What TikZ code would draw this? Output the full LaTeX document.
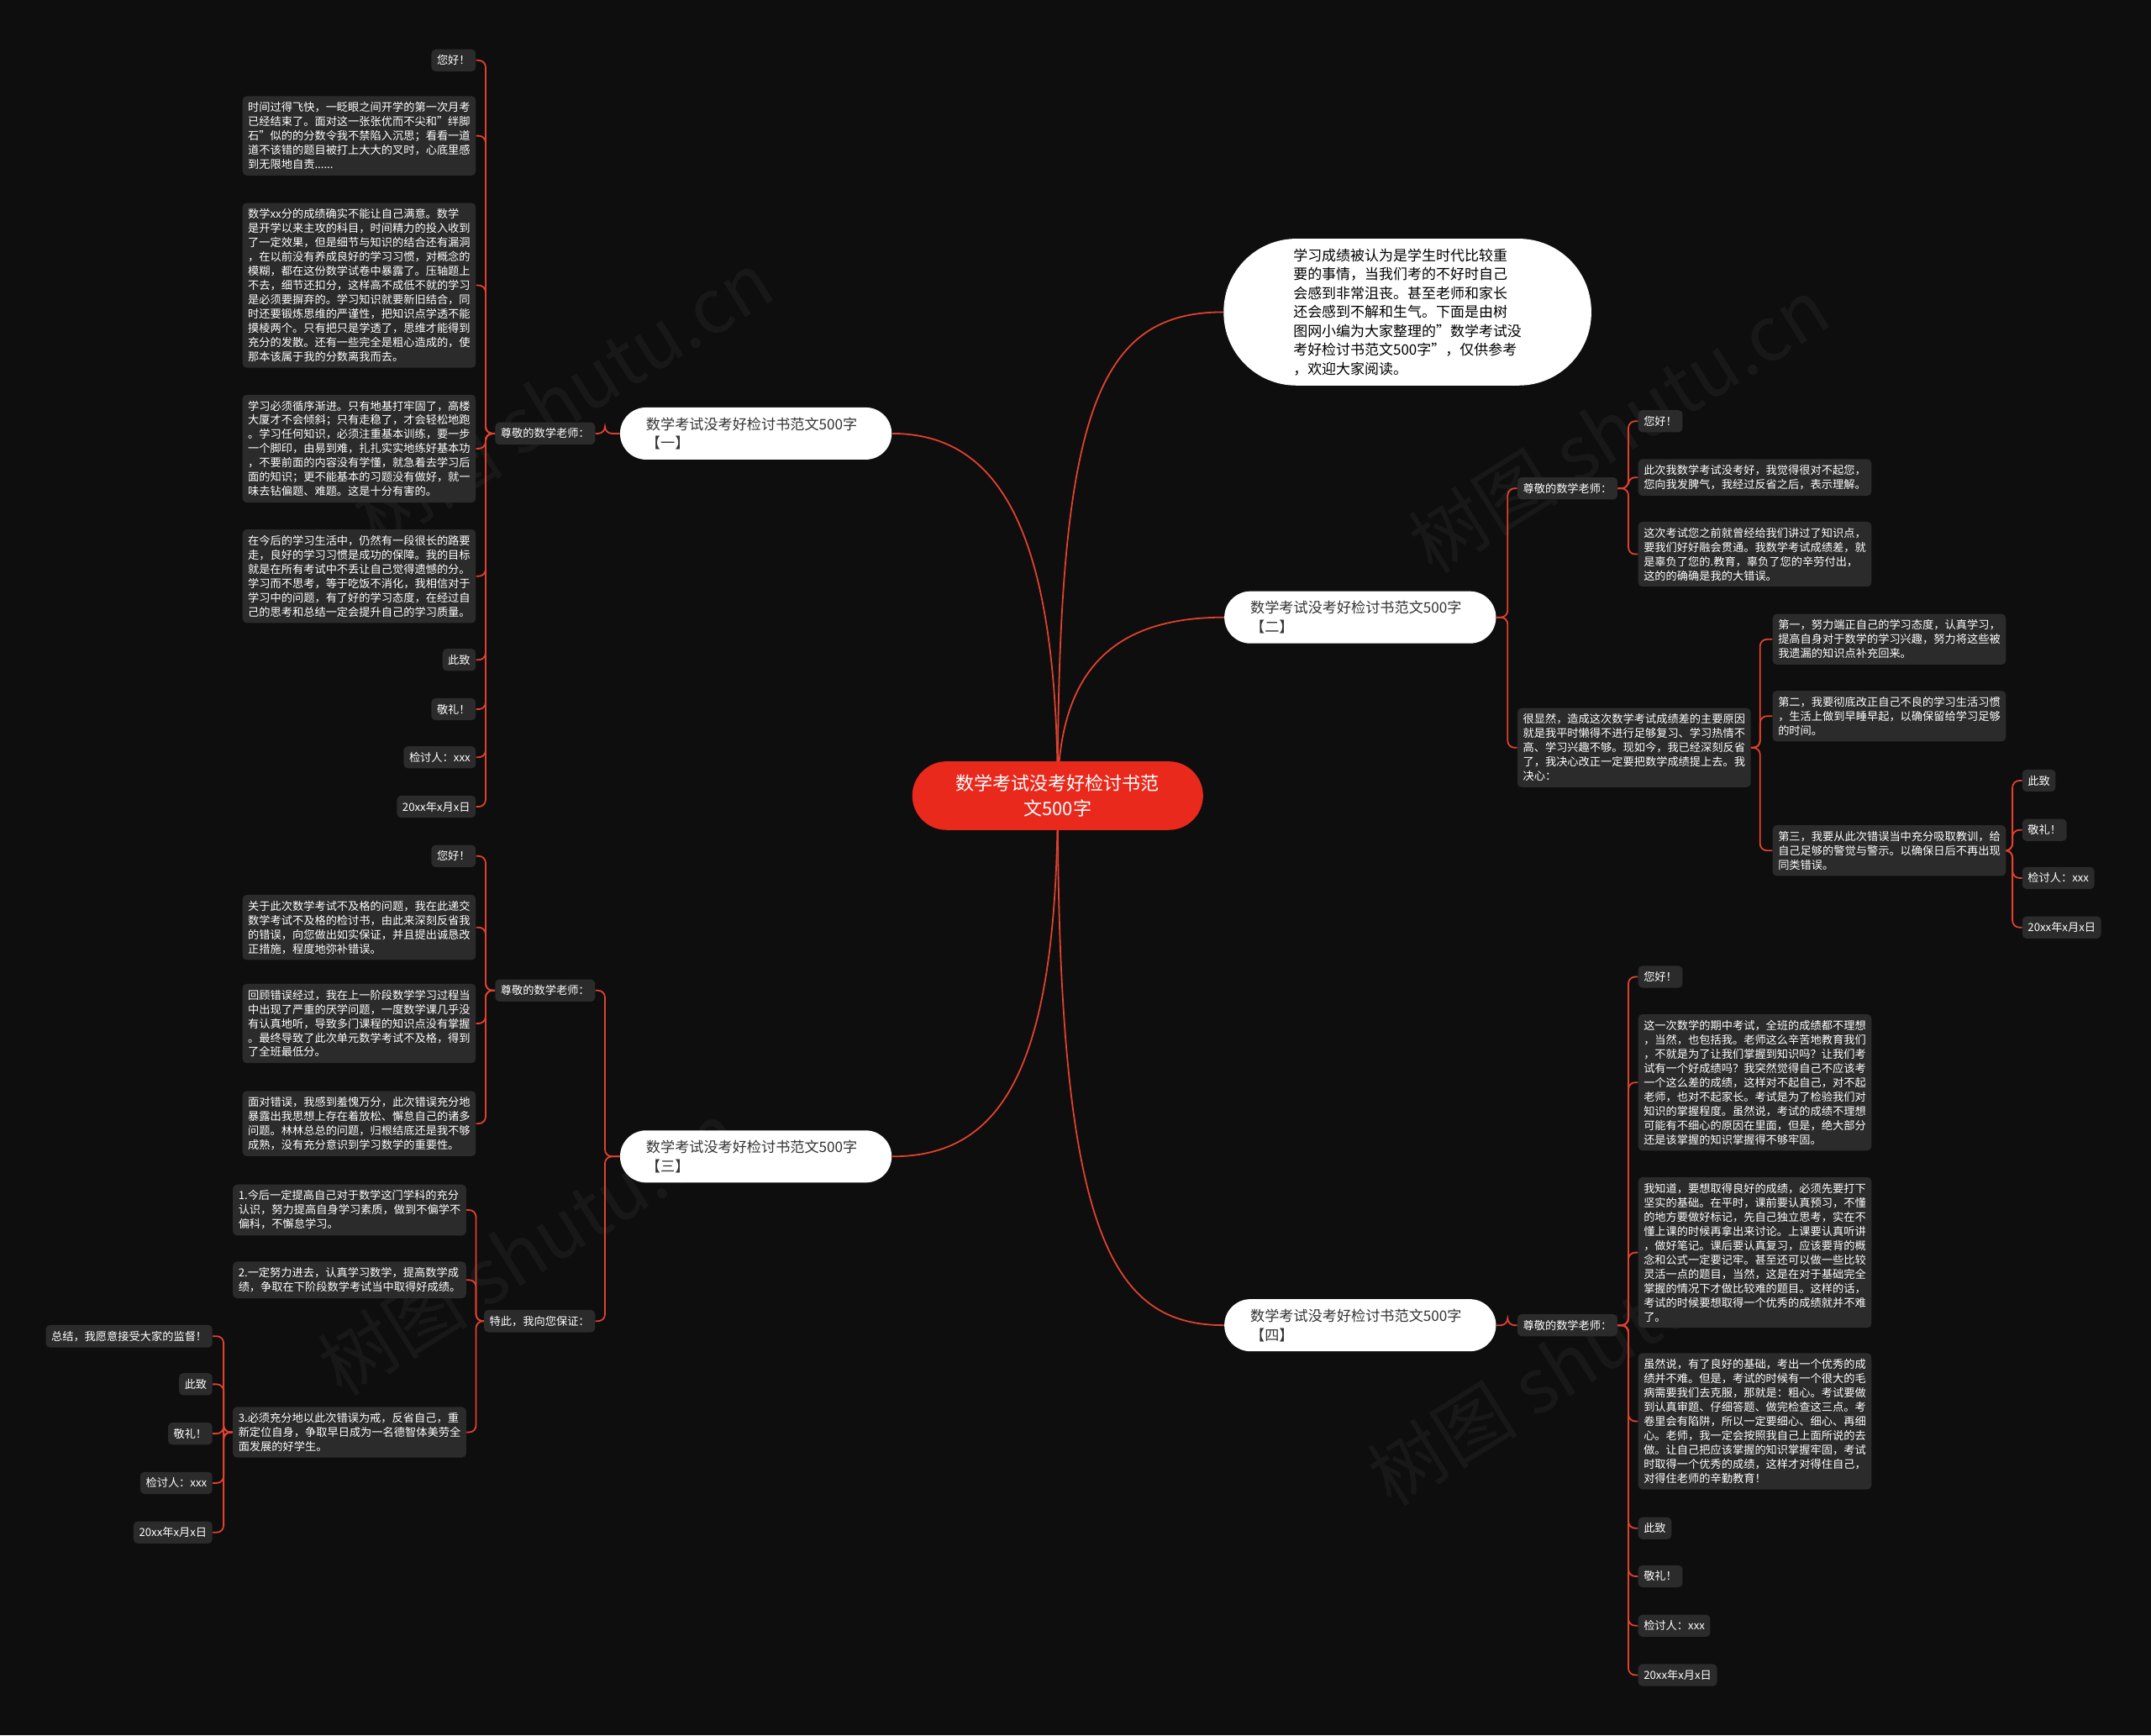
\documentclass[tikz,border=0pt]{standalone}
\usepackage{fontspec}
\setmainfont{Noto Sans CJK SC}
\usetikzlibrary{calc}
\definecolor{bgc}{HTML}{0E0E0E}
\definecolor{boxc}{HTML}{2B2B2B}
\definecolor{redc}{HTML}{E0412F}
\definecolor{rootc}{HTML}{E8291C}
\definecolor{darktext}{HTML}{333333}
\pgfdeclarelayer{background}
\pgfsetlayers{background,main}
\newcommand\connL[2]{\draw[conn] (#1.west) -| ([xshift=7pt]#2.east) -- (#2.east);}
\newcommand\connR[2]{\draw[conn] (#1.east) -| ([xshift=-7pt]#2.west) -- (#2.west);}
\tikzset{
 leaf/.style={fill=boxc, text=white, rounded corners=3pt, inner xsep=4pt, inner ysep=4.3pt, align=left, font=\fontsize{8.1}{10.4}\selectfont},
 leafE/.style={leaf, anchor=east},
 leafW/.style={leaf, anchor=west},
 branch/.style={fill=white, text=darktext, rounded corners=19pt, text width=160pt, inner xsep=19pt, inner ysep=4pt, minimum height=38pt, align=left, font=\fontsize{10.5}{14}\selectfont},
 rootnode/.style={fill=rootc, text=white, rounded corners=25pt, minimum width=212pt, minimum height=50pt, align=center, font=\fontsize{13.5}{18}\selectfont},
 intro/.style={fill=white, text=black, rounded corners=53pt, minimum width=268pt, minimum height=107pt, align=left, font=\fontsize{10.4}{13.8}\selectfont},
 conn/.style={draw=redc, line width=1.1pt, rounded corners=5pt},
 mainconn/.style={draw=redc, line width=1.1pt},
 wm/.style={text=white, opacity=0.045, font=\fontsize{55}{55}\selectfont, rotate=32},
}
\begin{document}
\begin{tikzpicture}[x=1pt,y=-1pt]
\begin{pgfonlayer}{background}
\fill[bgc] (0,0) rectangle (1568,1265);
\useasboundingbox (0,0) rectangle (1568,1265);
\node[wm] (wm1) at (410,290) {树图 shutu.cn};
\node[wm] (wm2) at (1180,310) {树图 shutu.cn};
\node[wm] (wm3) at (385,910) {树图 shutu.cn};
\node[wm] (wm4) at (1150,990) {树图 shutu.cn};
\end{pgfonlayer}

% root and intro
\node[rootnode] (root) at (771,580) {数学考试没考好检讨书范\\文500字};
\node[intro] (intro) at (1026,227.5) {学习成绩被认为是学生时代比较重\\要的事情，当我们考的不好时自己\\会感到非常沮丧。甚至老师和家长\\还会感到不解和生气。下面是由树\\图网小编为大家整理的"数学考试没\\考好检讨书范文500字"，仅供参考\\，欢迎大家阅读。};

% branches
\node[branch] (b1) at (551,316) {数学考试没考好检讨书范文500字\\【一】};
\node[branch] (b2) at (991.5,450) {数学考试没考好检讨书范文500字\\【二】};
\node[branch] (b3) at (551,843) {数学考试没考好检讨书范文500字\\【三】};
\node[branch] (b4) at (991.5,966) {数学考试没考好检讨书范文500字\\【四】};

% ---- branch 1 ----
\node[leafE] (l1) at (434,316) {尊敬的数学老师：};
\node[leafE] (l1a) at (347,44) {您好！};
\node[leafE] (l1b) at (347,99) {时间过得飞快，一眨眼之间开学的第一次月考\\已经结束了。面对这一张张优而不尖和"绊脚\\石"似的的分数令我不禁陷入沉思；看看一道\\道不该错的题目被打上大大的叉时，心底里感\\到无限地自责......};
\node[leafE] (l1c) at (347,208) {数学xx分的成绩确实不能让自己满意。数学\\是开学以来主攻的科目，时间精力的投入收到\\了一定效果，但是细节与知识的结合还有漏洞\\，在以前没有养成良好的学习习惯，对概念的\\模糊，都在这份数学试卷中暴露了。压轴题上\\不去，细节还扣分，这样高不成低不就的学习\\是必须要摒弃的。学习知识就要新旧结合，同\\时还要锻炼思维的严谨性，把知识点学透不能\\摸棱两个。只有把只是学透了，思维才能得到\\充分的发散。还有一些完全是粗心造成的，使\\那本该属于我的分数离我而去。};
\node[leafE] (l1d) at (347,327) {学习必须循序渐进。只有地基打牢固了，高楼\\大厦才不会倾斜；只有走稳了，才会轻松地跑\\。学习任何知识，必须注重基本训练，要一步\\一个脚印，由易到难，扎扎实实地练好基本功\\，不要前面的内容没有学懂，就急着去学习后\\面的知识；更不能基本的习题没有做好，就一\\味去钻偏题、难题。这是十分有害的。};
\node[leafE] (l1e) at (347,420) {在今后的学习生活中，仍然有一段很长的路要\\走，良好的学习习惯是成功的保障。我的目标\\就是在所有考试中不丢让自己觉得遗憾的分。\\学习而不思考，等于吃饭不消化，我相信对于\\学习中的问题，有了好的学习态度，在经过自\\己的思考和总结一定会提升自己的学习质量。};
\node[leafE] (l1f) at (347,481) {此致};
\node[leafE] (l1g) at (347,517) {敬礼！};
\node[leafE] (l1h) at (347,552) {检讨人：xxx};
\node[leafE] (l1i) at (347,588) {20xx年x月x日};

% ---- branch 3 ----
\node[leafE] (l3a) at (434,722) {尊敬的数学老师：};
\node[leafE] (l3b) at (434,963) {特此，我向您保证：};
\node[leafE] (l3a1) at (347,624) {您好！};
\node[leafE] (l3a2) at (347,676) {关于此次数学考试不及格的问题，我在此递交\\数学考试不及格的检讨书，由此来深刻反省我\\的错误，向您做出如实保证，并且提出诚恳改\\正措施，程度地弥补错误。};
\node[leafE] (l3a3) at (347,746) {回顾错误经过，我在上一阶段数学学习过程当\\中出现了严重的厌学问题，一度数学课几乎没\\有认真地听，导致多门课程的知识点没有掌握\\。最终导致了此次单元数学考试不及格，得到\\了全班最低分。};
\node[leafE] (l3a4) at (347,819) {面对错误，我感到羞愧万分，此次错误充分地\\暴露出我思想上存在着放松、懈怠自己的诸多\\问题。林林总总的问题，归根结底还是我不够\\成熟，没有充分意识到学习数学的重要性。};
\node[leafE] (l3b1) at (340,882) {1.今后一定提高自己对于数学这门学科的充分\\认识，努力提高自身学习素质，做到不偏学不\\偏科，不懈怠学习。};
\node[leafE] (l3b2) at (340,933) {2.一定努力进去，认真学习数学，提高数学成\\绩，争取在下阶段数学考试当中取得好成绩。};
\node[leafE] (l3b3) at (340,1044) {3.必须充分地以此次错误为戒，反省自己，重\\新定位自身，争取早日成为一名德智体美劳全\\面发展的好学生。};
\node[leafE] (l3c1) at (155,974) {总结，我愿意接受大家的监督！};
\node[leafE] (l3c2) at (155,1009) {此致};
\node[leafE] (l3c3) at (155,1045) {敬礼！};
\node[leafE] (l3c4) at (155,1081) {检讨人：xxx};
\node[leafE] (l3c5) at (155,1117) {20xx年x月x日};

% ---- branch 2 ----
\node[leafW] (r2a) at (1106,356) {尊敬的数学老师：};
\node[leafW] (r2b) at (1106,545) {很显然，造成这次数学考试成绩差的主要原因\\就是我平时懒得不进行足够复习、学习热情不\\高、学习兴趣不够。现如今，我已经深刻反省\\了，我决心改正一定要把数学成绩提上去。我\\决心：};
\node[leafW] (r2a1) at (1194,307) {您好！};
\node[leafW] (r2a2) at (1194,348) {此次我数学考试没考好，我觉得很对不起您，\\您向我发脾气，我经过反省之后，表示理解。};
\node[leafW] (r2a3) at (1194,404) {这次考试您之前就曾经给我们讲过了知识点，\\要我们好好融会贯通。我数学考试成绩差，就\\是辜负了您的.教育，辜负了您的辛劳付出，\\这的的确确是我的大错误。};
\node[leafW] (r2b1) at (1292,466) {第一，努力端正自己的学习态度，认真学习，\\提高自身对于数学的学习兴趣，努力将这些被\\我遗漏的知识点补充回来。};
\node[leafW] (r2b2) at (1292,522) {第二，我要彻底改正自己不良的学习生活习惯\\，生活上做到早睡早起，以确保留给学习足够\\的时间。};
\node[leafW] (r2b3) at (1292,620) {第三，我要从此次错误当中充分吸取教训，给\\自己足够的警觉与警示。以确保日后不再出现\\同类错误。};
\node[leafW] (r2c1) at (1474,569) {此致};
\node[leafW] (r2c2) at (1474,605) {敬礼！};
\node[leafW] (r2c3) at (1474,640) {检讨人：xxx};
\node[leafW] (r2c4) at (1474,676) {20xx年x月x日};

% ---- branch 4 ----
\node[leafW] (r4) at (1106,966) {尊敬的数学老师：};
\node[leafW] (r41) at (1194,712) {您好！};
\node[leafW] (r42) at (1194,789) {这一次数学的期中考试，全班的成绩都不理想\\，当然，也包括我。老师这么辛苦地教育我们\\，不就是为了让我们掌握到知识吗？让我们考\\试有一个好成绩吗？我突然觉得自己不应该考\\一个这么差的成绩，这样对不起自己，对不起\\老师，也对不起家长。考试是为了检验我们对\\知识的掌握程度。虽然说，考试的成绩不理想\\可能有不细心的原因在里面，但是，绝大部分\\还是该掌握的知识掌握得不够牢固。};
\node[leafW] (r43) at (1194,913) {我知道，要想取得良好的成绩，必须先要打下\\坚实的基础。在平时，课前要认真预习，不懂\\的地方要做好标记，先自己独立思考，实在不\\懂上课的时候再拿出来讨论。上课要认真听讲\\，做好笔记。课后要认真复习，应该要背的概\\念和公式一定要记牢。甚至还可以做一些比较\\灵活一点的题目，当然，这是在对于基础完全\\掌握的情况下才做比较难的题目。这样的话，\\考试的时候要想取得一个优秀的成绩就并不难\\了。};
\node[leafW] (r44) at (1194,1036) {虽然说，有了良好的基础，考出一个优秀的成\\绩并不难。但是，考试的时候有一个很大的毛\\病需要我们去克服，那就是：粗心。考试要做\\到认真审题、仔细答题、做完检查这三点。考\\卷里会有陷阱，所以一定要细心、细心、再细\\心。老师，我一定会按照我自己上面所说的去\\做。让自己把应该掌握的知识掌握牢固，考试\\时取得一个优秀的成绩，这样才对得住自己，\\对得住老师的辛勤教育！};
\node[leafW] (r45) at (1194,1114) {此致};
\node[leafW] (r46) at (1194,1149) {敬礼！};
\node[leafW] (r47) at (1194,1185) {检讨人：xxx};
\node[leafW] (r48) at (1194,1221) {20xx年x月x日};

\begin{pgfonlayer}{background}
% main curves
\draw[mainconn] (root.center) .. controls (771,300) and (800,227.5) .. (intro.west);
\draw[mainconn] (root.center) .. controls (771,390) and (730,316) .. (b1.east);
\draw[mainconn] (root.center) .. controls (771,490) and (810,450) .. (b2.west);
\draw[mainconn] (root.center) .. controls (771,780) and (730,843) .. (b3.east);
\draw[mainconn] (root.center) .. controls (771,900) and (810,966) .. (b4.west);
% branch 1
\connL{b1}{l1}
\foreach \c in {l1a,l1b,l1c,l1d,l1e,l1f,l1g,l1h,l1i} {\connL{l1}{\c}}
% branch 3
\connL{b3}{l3a}
\connL{b3}{l3b}
\foreach \c in {l3a1,l3a2,l3a3,l3a4} {\connL{l3a}{\c}}
\foreach \c in {l3b1,l3b2,l3b3} {\connL{l3b}{\c}}
\foreach \c in {l3c1,l3c2,l3c3,l3c4,l3c5} {\draw[conn] (l3b3.west) -| ([xshift=8pt]\c.east) -- (\c.east);}
% branch 2
\connR{b2}{r2a}
\connR{b2}{r2b}
\foreach \c in {r2a1,r2a2,r2a3} {\connR{r2a}{\c}}
\foreach \c in {r2b1,r2b2,r2b3} {\draw[conn] (r2b.east) -| ([xshift=-9pt]\c.west) -- (\c.west);}
\foreach \c in {r2c1,r2c2,r2c3,r2c4} {\connR{r2b3}{\c}}
% branch 4
\connR{b4}{r4}
\foreach \c in {r41,r42,r43,r44,r45,r46,r47,r48} {\connR{r4}{\c}}
\end{pgfonlayer}
\end{tikzpicture}
\end{document}
